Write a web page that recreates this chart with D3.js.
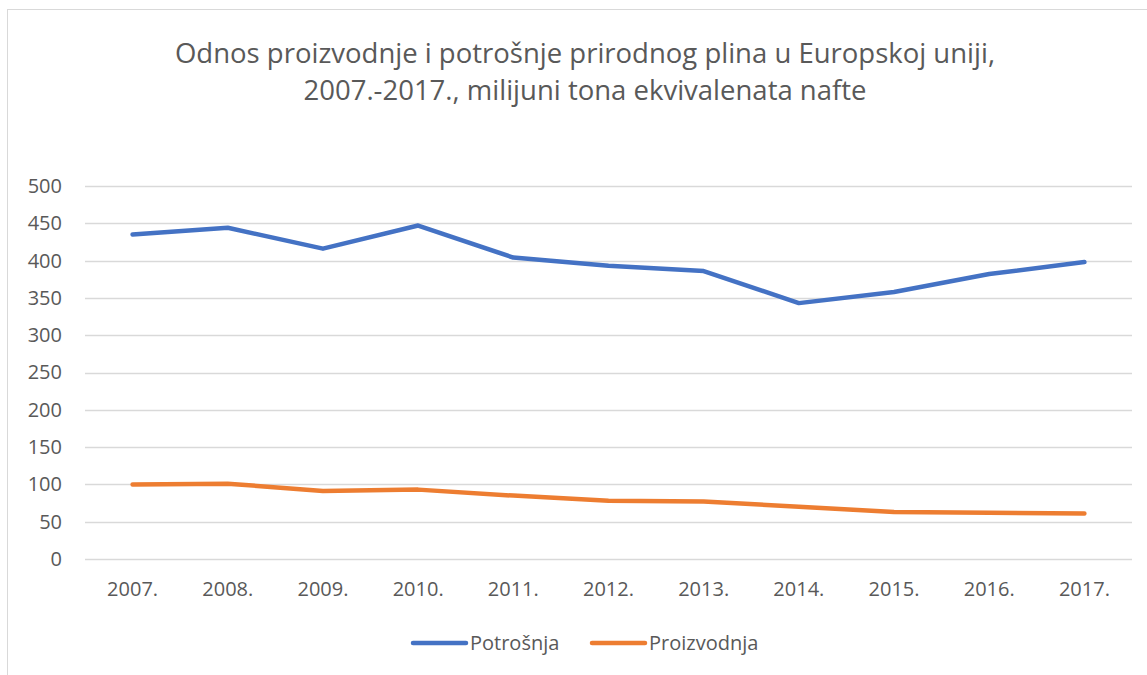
<!DOCTYPE html>
<html>
<head>
<meta charset="utf-8">
<script src="https://cdn.jsdelivr.net/npm/d3@7"></script>
<style>
  body { margin: 0; background: #fff; }
  svg { display: block; font-family: "Open Sans", "Noto Sans", sans-serif; }
</style>
</head>
<body>
<div id="chart"></div>
<script>
var years = ["2007.", "2008.", "2009.", "2010.", "2011.", "2012.", "2013.", "2014.", "2015.", "2016.", "2017."];
var potrosnja = [435, 444, 416, 447, 404, 393, 386, 343, 358, 382, 398];
var proizvodnja = [100, 101, 91, 93, 85, 78, 77, 70, 63, 62, 61];
var yTicks = [0, 50, 100, 150, 200, 250, 300, 350, 400, 450, 500];
var titleLines = ["Odnos proizvodnje i potrošnje prirodnog plina u Europskoj uniji,", "2007.-2017., milijuni tona ekvivalenata nafte"];
var seriesNames = ["Potrošnja", "Proizvodnja"];
var colors = ["#4472C4", "#ED7D31"];

var width = 1147, height = 675;
var margin = {left: 85, right: 15, top: 186, bottom: 116};

var svg = d3.select("#chart").append("svg")
	.attr("width", width)
	.attr("height", height);

// chart frame
svg.append("rect")
	.attr("x", 7.5).attr("y", 9.5)
	.attr("width", width + 10).attr("height", height + 10)
	.attr("fill", "none")
	.attr("stroke", "#d9d9d9")
	.attr("stroke-width", 1);

var x = d3.scaleBand().domain(years).range([margin.left, width - margin.right]);
var y = d3.scaleLinear().domain([0, 500]).range([height - margin.bottom, margin.top]);

// title
svg.append("text")
	.attr("x", 585).attr("y", 63)
	.attr("text-anchor", "middle")
	.attr("fill", "#595959")
	.style("font-size", "27.5px")
	.selectAll("tspan")
	.data(titleLines)
	.enter()
	.append("tspan")
	.attr("x", 585)
	.attr("dy", function(d, i){ return i ? 37 : 0; })
	.text(function(d){ return d; });

// gridlines
svg.append("g")
	.selectAll("line")
	.data(yTicks)
	.enter()
	.append("line")
	.attr("x1", margin.left).attr("x2", width - margin.right)
	.attr("y1", function(d){ return Math.round(y(d)) + 0.5; })
	.attr("y2", function(d){ return Math.round(y(d)) + 0.5; })
	.attr("stroke", "#d9d9d9")
	.attr("stroke-width", 1.3);

// y axis labels
var yAxis = d3.axisLeft(y).tickValues(yTicks).tickSize(0).tickPadding(0);
svg.append("g")
	.attr("transform", "translate(62,0)")
	.call(yAxis)
	.call(function(g){ g.select(".domain").remove(); })
	.selectAll("text")
	.attr("fill", "#595959")
	.style("font-size", "20px")
	.style("font-family", "'Open Sans', 'Noto Sans', sans-serif");

// x axis labels
var xAxis = d3.axisBottom(x).tickSize(0).tickPadding(0);
svg.append("g")
	.attr("transform", "translate(0," + (y(0) + 31) + ")")
	.call(xAxis)
	.call(function(g){ g.select(".domain").remove(); })
	.selectAll("text")
	.attr("dy", "0.32em")
	.attr("fill", "#595959")
	.style("font-size", "20px")
	.style("font-family", "'Open Sans', 'Noto Sans', sans-serif");

var line = d3.line()
	.x(function(d, i){ return x(years[i]) + x.bandwidth() / 2; })
	.y(function(d){ return y(d); });

[potrosnja, proizvodnja].forEach(function(s, k){
	svg.append("path")
		.datum(s)
		.attr("d", line)
		.attr("fill", "none")
		.attr("stroke", colors[k])
		.attr("stroke-width", 4.5)
		.attr("stroke-linejoin", "round")
		.attr("stroke-linecap", "round");
});

// legend
var legendX = [413, 592];
var legend = svg.append("g");
seriesNames.forEach(function(name, k){
	legend.append("line")
		.attr("x1", legendX[k]).attr("x2", legendX[k] + 53)
		.attr("y1", 643).attr("y2", 643)
		.attr("stroke", colors[k])
		.attr("stroke-width", 4.5)
		.attr("stroke-linecap", "round");
	legend.append("text")
		.attr("x", legendX[k] + 57).attr("y", 643)
		.attr("dy", "0.35em")
		.attr("fill", "#595959")
		.style("font-size", "20px")
		.text(name);
});
</script>
</body>
</html>
